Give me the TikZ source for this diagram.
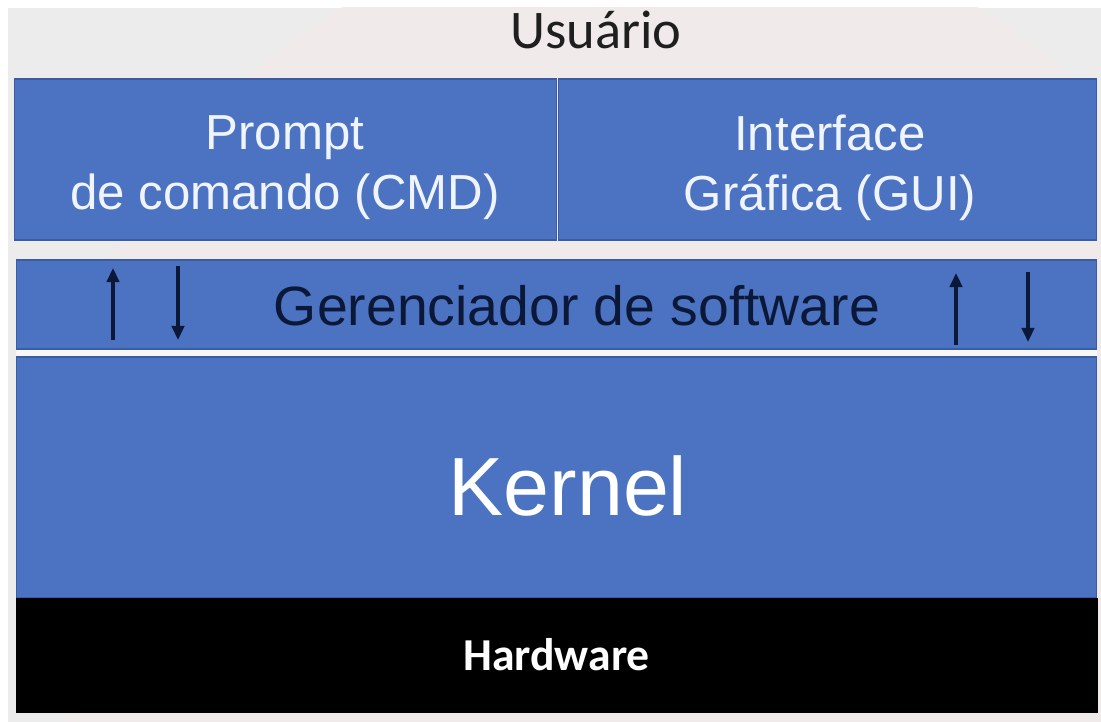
\documentclass[tikz,border=0pt]{standalone}
\usepackage{fontspec}
\setmainfont{Liberation Sans}
\newfontfamily\carlito{Carlito}
\usetikzlibrary{arrows.meta}
\definecolor{boxblue}{RGB}{76,114,194}
\definecolor{edgeblue}{RGB}{58,92,165}
\definecolor{bgray}{RGB}{236,236,236}
\definecolor{arcpink}{RGB}{240,234,234}
\definecolor{navy}{RGB}{12,24,56}
\definecolor{softwhite}{RGB}{240,244,255}
\tikzset{
  layer/.style={draw=edgeblue, line width=0.6pt, fill=boxblue, inner sep=0pt},
  flow/.style={draw=navy, line width=2.1pt, -{Triangle[length=8pt,width=7pt]}},
}
\begin{document}
\begin{tikzpicture}[x=0.02cm,y=-0.02cm]
  \useasboundingbox (0,0) rectangle (1101,722);
  \fill[white] (0,0) rectangle (1101,722);
  \fill[bgray] (8,8) rectangle (1101,722);
  \begin{scope}
    \clip (8,8) rectangle (1101,722);
    \fill[arcpink] (660,540) circle (620*0.02cm);
  \end{scope}
  \node[text=black!88, font=\carlito\fontsize{31}{36}\selectfont] (user) at (596,30) {Usuário};
  \node[layer, minimum width=10.86cm, minimum height=3.22cm] (cmd) at (285.5,159.5) {};
  \node[layer, minimum width=10.78cm, minimum height=3.22cm] (gui) at (827.5,159.5) {};
  \node[text=softwhite, align=center, font=\fontsize{28}{34}\selectfont] (cmdt) at (285,168) {Prompt\\de comando (CMD)};
  \node[text=softwhite, align=center, font=\fontsize{28}{34}\selectfont] (guit) at (830,168) {Interface\\Gráfica (GUI)};
  \fill[white!60!bgray] (16,349) rectangle (1097,357);
  \node[layer, minimum width=21.62cm, minimum height=1.78cm] (ger) at (556.5,304.5) {};
  \node[text=navy, font=\fontsize{31.5}{36}\selectfont] (gert) at (577,306) {Gerenciador de software};
  \node[layer, minimum width=21.62cm, minimum height=4.82cm] (kernel) at (556.5,477.5) {};
  \node[text=white, font=\fontsize{47}{54}\selectfont] (kernelt) at (568,486) {Kernel};
  \node[fill=black, draw=black, inner sep=0pt, minimum width=21.62cm, minimum height=2.28cm,
        text=white, font=\carlito\bfseries\fontsize{26}{30}\selectfont] (hw) at (556.5,655) {Hardware};
  \coordinate (a1s) at (113,340); \coordinate (a1e) at (113,268);
  \coordinate (a2s) at (178,266); \coordinate (a2e) at (178,340);
  \coordinate (a3s) at (956,345); \coordinate (a3e) at (956,273);
  \coordinate (a4s) at (1028,272); \coordinate (a4e) at (1028,342);
  \draw[flow] (a1s) -- (a1e);
  \draw[flow] (a2s) -- (a2e);
  \draw[flow] (a3s) -- (a3e);
  \draw[flow] (a4s) -- (a4e);
\end{tikzpicture}
\end{document}
